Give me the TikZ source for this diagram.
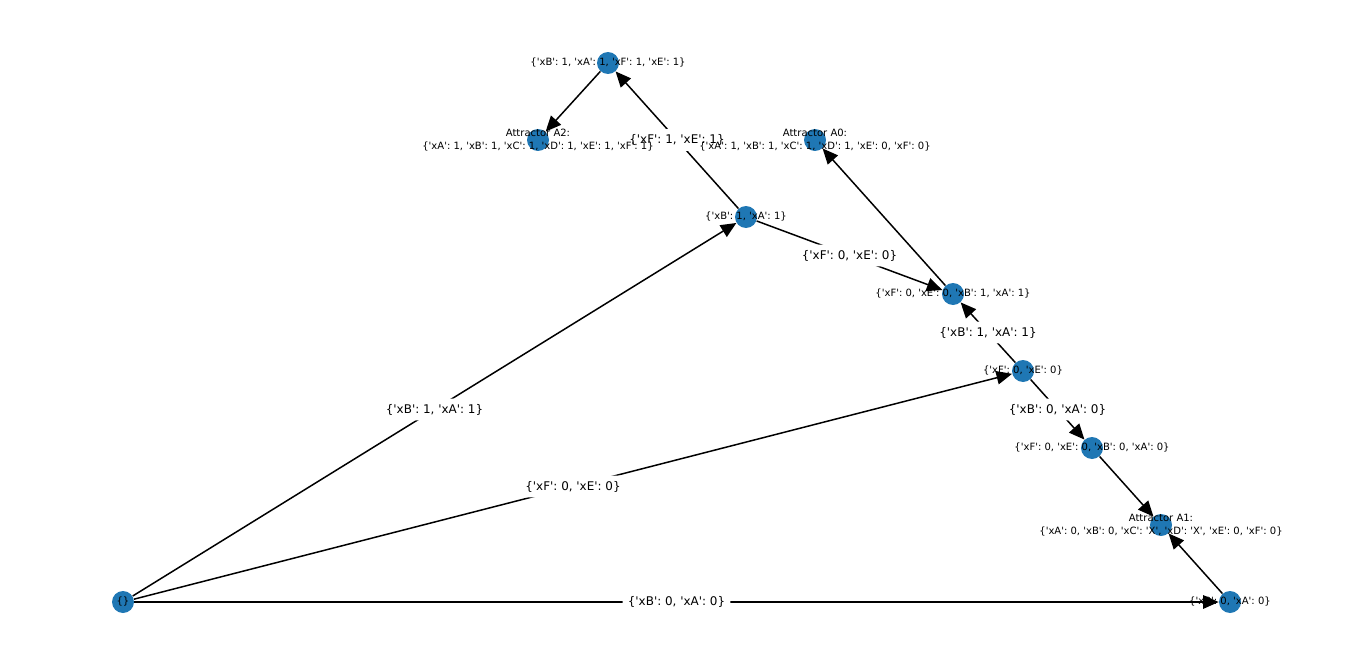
\documentclass[tikz,border=0pt]{standalone}
\usepackage{fontspec}
\newfontfamily\dejavu{DejaVu Sans}
\usetikzlibrary{arrows.meta}
\definecolor{stateBlue}{HTML}{1F77B4}

\begin{document}
\begin{tikzpicture}[x=0.02cm,y=-0.02cm,>={Triangle[length=0.31cm,width=0.27cm]},
 state/.style={circle,fill=stateBlue,minimum size=0.44cm,inner sep=0pt},
 slabel/.style={font=\dejavu\fontsize{5.7}{7.4}\selectfont,align=center,inner sep=0pt},
 elabel/.style={font=\dejavu\fontsize{6.8}{8}\selectfont,fill=white,rounded corners=2pt,inner sep=3pt},
 trans/.style={->,line width=0.85pt}]
\useasboundingbox (0,0) rectangle (1353,666);
% one dot per state
\foreach \n/\x/\y in {e/123/602,ba1/746/217,all1/608/63,a2/538/140,a0/815/140,
 feba/953/294,fe0/1023/371,feba0/1092/448,a1/1161/525,ba0/1230/602}
 \node[state] (\n) at (\x,\y) {};
% transitions
\draw[trans] (e) -- (ba1) node[elabel,midway] {\{'xB': 1, 'xA': 1\}};
\draw[trans] (e) -- (fe0) node[elabel,midway] {\{'xF': 0, 'xE': 0\}};
\draw[trans] (e) -- (ba0) node[elabel,midway] {\{'xB': 0, 'xA': 0\}};
\draw[trans] (ba1) -- (all1) node[elabel,midway] {\{'xF': 1, 'xE': 1\}};
\draw[trans] (ba1) -- (feba) node[elabel,midway] {\{'xF': 0, 'xE': 0\}};
\draw[trans] (fe0) -- (feba) node[elabel,midway] {\{'xB': 1, 'xA': 1\}};
\draw[trans] (fe0) -- (feba0) node[elabel,midway] {\{'xB': 0, 'xA': 0\}};
\draw[trans] (all1) -- (a2);
\draw[trans] (feba) -- (a0);
\draw[trans] (feba0) -- (a1);
\draw[trans] (ba0) -- (a1);
% state texts on top
\node[slabel] (e-t) at (e) {\{\}};
\node[slabel] (ba1-t) at (ba1) {\{'xB': 1, 'xA': 1\}};
\node[slabel] (all1-t) at (all1) {\{'xB': 1, 'xA': 1, 'xF': 1, 'xE': 1\}};
\node[slabel] (a2-t) at (a2) {Attractor A2:\\\{'xA': 1, 'xB': 1, 'xC': 1, 'xD': 1, 'xE': 1, 'xF': 1\}};
\node[slabel] (a0-t) at (a0) {Attractor A0:\\\{'xA': 1, 'xB': 1, 'xC': 1, 'xD': 1, 'xE': 0, 'xF': 0\}};
\node[slabel] (feba-t) at (feba) {\{'xF': 0, 'xE': 0, 'xB': 1, 'xA': 1\}};
\node[slabel] (fe0-t) at (fe0) {\{'xF': 0, 'xE': 0\}};
\node[slabel] (feba0-t) at (feba0) {\{'xF': 0, 'xE': 0, 'xB': 0, 'xA': 0\}};
\node[slabel] (a1-t) at (a1) {Attractor A1:\\\{'xA': 0, 'xB': 0, 'xC': 'X', 'xD': 'X', 'xE': 0, 'xF': 0\}};
\node[slabel] (ba0-t) at (ba0) {\{'xB': 0, 'xA': 0\}};
\end{tikzpicture}
\end{document}
